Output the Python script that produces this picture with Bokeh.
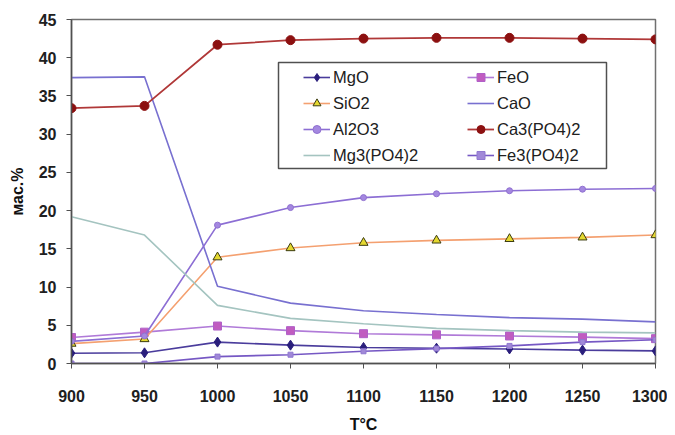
from bokeh.plotting import figure
from bokeh.models import Range1d, FixedTicker, Legend, LegendItem, BoxAnnotation
from bokeh.embed import file_html
from bokeh.resources import INLINE

temps = [900, 950, 1000, 1050, 1100, 1150, 1200, 1250, 1300]
mgo = [1.35, 1.4, 2.8, 2.4, 2.1, 2.0, 1.9, 1.75, 1.65]
feo = [3.4, 4.1, 4.9, 4.3, 3.9, 3.75, 3.6, 3.45, 3.25]
sio2 = [2.6, 3.2, 13.9, 15.1, 15.8, 16.1, 16.3, 16.5, 16.8]
cao = [37.4, 37.5, 10.1, 7.9, 6.9, 6.4, 6.0, 5.8, 5.45]
al2o3 = [2.9, 3.6, 18.1, 20.4, 21.7, 22.2, 22.6, 22.8, 22.9]
ca3po4 = [33.4, 33.7, 41.7, 42.3, 42.5, 42.6, 42.6, 42.5, 42.4]
mg3po4 = [19.2, 16.8, 7.6, 5.9, 5.2, 4.6, 4.3, 4.1, 4.0]
fe3po4 = [0.0, 0.0, 0.9, 1.15, 1.6, 1.95, 2.3, 2.8, 3.1]

y_ticks = [0, 5, 10, 15, 20, 25, 30, 35, 40, 45]
x_ticks = temps

p = figure(width=667, height=435, output_backend="svg", toolbar_location=None,
           x_range=Range1d(900, 1300), y_range=Range1d(0, 45),
           min_border_left=71, min_border_top=19, min_border_right=12, min_border_bottom=72)
p.xgrid.visible = False
p.ygrid.visible = False
p.outline_line_color = "#707070"
p.outline_line_width = 1.5

font = "Liberation Sans"
for ax in (p.xaxis[0], p.yaxis[0]):
    ax.major_tick_in = 0
    ax.major_tick_out = 5
    ax.minor_tick_line_color = None
    ax.axis_line_color = "#505050"
    ax.axis_line_width = 1.5
    ax.major_tick_line_color = "#505050"
    ax.major_label_text_font = font
    ax.major_label_text_font_style = "bold"
    ax.major_label_text_font_size = "16px"
    ax.major_label_text_color = "#202020"
    ax.axis_label_text_font = font
    ax.axis_label_text_font_style = "bold"
    ax.axis_label_text_font_size = "16px"
    ax.axis_label_text_color = "#101010"

p.xaxis[0].ticker = FixedTicker(ticks=x_ticks)
p.yaxis[0].ticker = FixedTicker(ticks=y_ticks)
p.xaxis[0].major_label_standoff = 21
p.yaxis[0].major_label_standoff = 10
p.xaxis[0].axis_label = "T°C"
p.yaxis[0].axis_label = "мас.%"
p.xaxis[0].axis_label_standoff = 11
p.yaxis[0].axis_label_standoff = 10

items = {}

l = p.line(temps, mgo, line_color="#4a3c9c", line_width=1.6)
m = p.scatter(temps, mgo, marker="diamond", size=10, fill_color="#2a1e7c", line_color="#2a1e7c")
items["MgO"] = [l, m]

l = p.line(temps, feo, line_color="#b07ad8", line_width=1.6)
m = p.scatter(temps, feo, marker="square", size=8, fill_color="#c05cc0", line_color="#b060c8")
items["FeO"] = [l, m]

l = p.line(temps, sio2, line_color="#f4a070", line_width=1.6)
m = p.scatter(temps, sio2, marker="triangle", size=9, fill_color="#e4d830", line_color="#3c3c10")
items["SiO2"] = [l, m]

l = p.line(temps, cao, line_color="#7870d0", line_width=1.6)
items["CaO"] = [l]

l = p.line(temps, al2o3, line_color="#8c6ed4", line_width=1.6)
m = p.scatter(temps, al2o3, marker="circle", size=6, fill_color="#a488e0", line_color="#9070d0")
items["Al2O3"] = [l, m]

l = p.line(temps, ca3po4, line_color="#b03838", line_width=1.8)
m = p.scatter(temps, ca3po4, marker="circle", size=9, fill_color="#8c1010", line_color="#8c1010")
items["Ca3(PO4)2"] = [l, m]

l = p.line(temps, mg3po4, line_color="#a4c4c0", line_width=1.6)
items["Mg3(PO4)2"] = [l]

l = p.line(temps, fe3po4, line_color="#7658c4", line_width=1.6)
m = p.scatter(temps, fe3po4, marker="square", size=5, fill_color="#a088d8", line_color="#9078d0")
items["Fe3(PO4)2"] = [l, m]

# legend frame (layout, in canvas pixels)
frame = BoxAnnotation(left=278, right=606, top=62, bottom=168,
                      left_units="canvas", right_units="canvas",
                      top_units="canvas", bottom_units="canvas",
                      fill_color="white", fill_alpha=1.0,
                      line_color="#505050", line_width=1.5, line_alpha=1.0)
p.add_layout(frame)

col1 = ["MgO", "SiO2", "Al2O3", "Mg3(PO4)2"]
col2 = ["FeO", "CaO", "Ca3(PO4)2", "Fe3(PO4)2"]

def make_legend(names, xloc):
    return Legend(items=[LegendItem(label=k, renderers=items[k]) for k in names],
                  location=(xloc, 198), orientation="vertical",
                  border_line_color=None, background_fill_alpha=0.0,
                  padding=0, spacing=6, glyph_width=27, glyph_height=20,
                  label_text_font=font, label_text_font_size="16.5px",
                  label_text_color="#202020",
                  label_standoff=3, label_height=20)

p.add_layout(make_legend(col1, 232), "center")
p.add_layout(make_legend(col2, 396), "center")

open("out.html", "w").write(file_html(p, INLINE))
